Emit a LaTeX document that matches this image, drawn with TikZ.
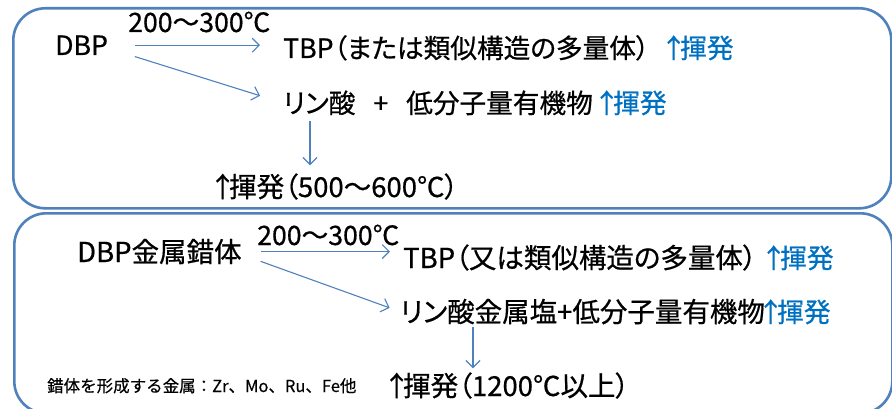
\documentclass[tikz,border=0pt]{standalone}
\usepackage{fontspec}
\setmainfont{Noto Sans CJK JP}[RawFeature=+palt, UprightFeatures={FakeBold=0.6}]
\newfontfamily\fullwfont{Noto Sans CJK JP}[UprightFeatures={FakeBold=0.4}]
\usetikzlibrary{arrows.meta}
\definecolor{boxblue}{RGB}{79,129,189}
\definecolor{volblue}{RGB}{0,112,192}
\definecolor{txt}{RGB}{0,0,0}
\newcommand{\uparr}{\makebox[13pt][c]{↑}}
\begin{document}
\begin{tikzpicture}[x=1pt,y=-1pt,
  txtnode/.style={anchor=base west, inner sep=0pt, font=\fontsize{26.67}{30}\selectfont, text=txt},
  bigtxt/.style={txtnode, font=\fontsize{27.5}{31}\selectfont},
  vol/.style={txtnode, text=volblue},
  notenode/.style={anchor=base west, inner sep=0pt, font=\fullwfont\fontsize{16.5}{19}\selectfont, text=txt},
  arr/.style={draw=boxblue, line width=1.1pt, -{Straight Barb[length=7pt,width=14pt]}},
  panel/.style={draw=boxblue, line width=2.6pt, rounded corners=32pt, anchor=north west, inner sep=0pt, minimum width=878pt, minimum height=200pt}]
\useasboundingbox (0,0) rectangle (892,409);
% panels
\node[panel] (toppanel) at (12,7) {};
\node[panel] (botpanel) at (13,212) {};
% top panel
\node[txtnode] (dbp1) at (55,55) {DBP};
\node[txtnode] (temp1) at (128,32) {200～300℃};
\node[txtnode] (tbp1) at (283,58) {TBP（または類似構造の多量体）};
\node[vol] (vol1a) at (667,58) {\uparr 揮発};
\node[txtnode] (acid1) at (283,113) {リン酸\hspace{18pt}+\hspace{18pt}低分子量有機物};
\node[vol] (vol1b) at (600,113) {\uparr 揮発};
\node[bigtxt] (heat1) at (216,197) {\uparr 揮発（500～600℃）};
\draw[arr, shorten <=27pt, shorten >=23pt] (dbp1.east) -- (dbp1.east -| tbp1.west);
\draw[arr, shorten <=28pt, shorten >=24pt] ([yshift=-3pt]dbp1.east) -- (acid1.west);
\draw[arr, shorten <=6pt, shorten >=8pt] ([xshift=27pt]acid1.south west) -- ([xshift=27pt]acid1.south west |- heat1.north);
% bottom panel
\node[bigtxt] (dbp2) at (77,262) {DBP金属錯体};
\node[txtnode] (temp2) at (257,245) {200～300℃};
\node[bigtxt] (tbp2) at (403,268) {TBP（又は類似構造の多量体）};
\node[vol] (vol2a) at (767,268) {\uparr 揮発};
\node[bigtxt] (acid2) at (400,322) {リン酸金属塩+低分子量有機物};
\node[vol] (vol2b) at (764,322) {\uparr 揮発};
\node[bigtxt] (heat2) at (390,396) {\uparr 揮発（1200℃以上）};
\node[notenode] (note) at (47,392) {錯体を形成する金属：Zr、Mo、Ru、Fe他};
\draw[arr, shorten <=19pt, shorten >=13pt] (dbp2.east) -- (dbp2.east -| tbp2.west);
\draw[arr, shorten <=20pt, shorten >=11pt] ([yshift=-3pt]dbp2.east) -- (acid2.west);
\draw[arr, shorten <=2pt, shorten >=4pt] ([xshift=73pt]acid2.south west) -- ([xshift=73pt]acid2.south west |- heat2.north);
\end{tikzpicture}
\end{document}
